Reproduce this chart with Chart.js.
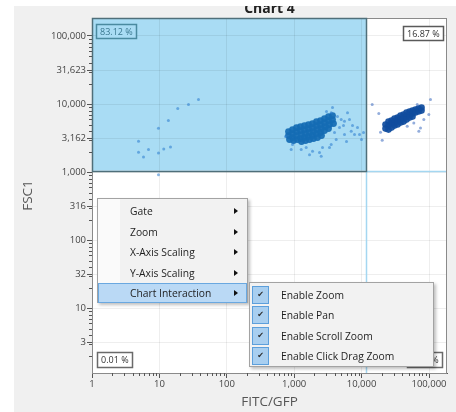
<!DOCTYPE html>
<html>
<head>
<meta charset="utf-8">
<script src="https://cdn.jsdelivr.net/npm/chart.js@4"></script>
<style>
  html, body { margin: 0; padding: 0; width: 456px; height: 412px; overflow: hidden; background: #ffffff; }
  #frame { position: absolute; left: 14px; top: 6px; width: 442px; height: 406px; background: #f0f0f0; overflow: hidden; }
  #frame canvas { position: absolute; left: -14px; top: -6px; }
  .menu { position: absolute; box-sizing: border-box; background: #f2f2f2; border: 1px solid #a3a3a3;
          box-shadow: 2px 2px 3px rgba(0,0,0,0.25); font-family: "Open Sans", sans-serif; font-size: 10.3px; color: #1e1e1e; }
  .strip { position: absolute; left: 0; top: 0; bottom: 0; width: 22px; background: #fafafa; }
  .item { position: absolute; left: 0; right: 0; height: 20px; line-height: 20px; }
  .item .txt { position: absolute; left: 32px; top: 0; white-space: nowrap; }
  .item .arrow { position: absolute; left: 136px; top: 7px; width: 0; height: 0;
                 border-top: 3px solid transparent; border-bottom: 3px solid transparent; border-left: 4px solid #111; }
  .item.hot { left: 0; width: 149px; box-sizing: border-box; background: #bad9f5; border: 1px solid #6aa8e0; }
  .item.hot .txt { left: 31px; top: -1px; }
  .item.hot .arrow { left: 135px; top: 6px; }
  .check { position: absolute; left: 2px; top: 1px; width: 17px; height: 18px; box-sizing: border-box;
           background: #a9cff0; border: 1px solid #5c9fdb; text-align: center; line-height: 16px;
           font-family: "DejaVu Sans", sans-serif; font-size: 8px; color: #2a2a2a; }
  .sub .item .txt { left: 31px; }
</style>
</head>
<body>
<div id="frame"><canvas id="plot" width="456" height="412"></canvas></div>

<div class="menu" style="left:97px; top:198px; width:151px; height:105px;">
  <div class="strip"></div>
  <div class="item" style="top:2px;"><span class="txt">Gate</span><span class="arrow"></span></div>
  <div class="item" style="top:22.5px;"><span class="txt">Zoom</span><span class="arrow"></span></div>
  <div class="item" style="top:43px;"><span class="txt">X-Axis Scaling</span><span class="arrow"></span></div>
  <div class="item" style="top:63.5px;"><span class="txt">Y-Axis Scaling</span><span class="arrow"></span></div>
  <div class="item hot" style="top:84px;"><span class="txt">Chart Interaction</span><span class="arrow"></span></div>
</div>

<div class="menu sub" style="left:249px; top:282px; width:185px; height:85px;">
  <div class="item" style="top:2px;"><span class="check">✔</span><span class="txt">Enable Zoom</span></div>
  <div class="item" style="top:22.3px;"><span class="check">✔</span><span class="txt">Enable Pan</span></div>
  <div class="item" style="top:42.6px;"><span class="check">✔</span><span class="txt">Enable Scroll Zoom</span></div>
  <div class="item" style="top:62.9px;"><span class="check">✔</span><span class="txt">Enable Click Drag Zoom</span></div>
</div>

<script>
// Events as [FITC/GFP, FSC1] pairs.
const mainCore = [
  [823,3941],[823,3441],[852,3005],
  [944,4217],[944,3683],[944,3216],[977,2905],
  [1082,4512],[1082,3941],[1082,3441],[1120,3005],
  [1240,4669],[1240,4076],[1283,3560],[1240,3109],[1283,2809],
  [1422,4829],[1422,4217],[1471,3683],[1422,3216],[1471,2905],
  [1630,4997],[1630,4362],[1687,3810],[1630,3327],[1687,3005],
  [1870,5167],[1870,4512],[1933,3941],[1870,3441],[1933,3109],
  [2143,5530],[2143,4829],[2217,4217],[2143,3683],[2217,3216],
  [2455,5718],[2455,4997],[2541,4362],[2455,3810],[2541,3441],
  [2816,6120],[2816,5346],[2913,4669],[2816,4076],
  [3228,6549],[3228,5718],[3339,4997],[3228,4362],
  [3700,6776],[3700,5916],[3828,5167]
];
const mainSparse = [
  [38.0,11650],[27.0,9840],[18.7,8590],[13.6,5718],[9.69,4406],
  [4.90,2838],[4.90,1955],[5.81,1673],[6.89,2142],[9.69,1916],
  [11.6,2194],[14.6,2348],[9.69,919],
  [3538,7424],[3700,8890],[4387,6549],[4982,5916],[5574,5585],
  [6180,7424],[6612,5916],[4699,4512],[7013,3981],[8690,4512],
  [9310,3560],[7850,3560],[5574,3560],[3963,3810],[4199,3005],
  [2373,1935],[1870,2023],[2630,2292],[3538,2537],[1506,2292],
  [944,2537],[1687,1808],[2516,1708],[1270,2142],[10670,3810],
  [3339,2292],[902,2142],[743,3327],[3013,7762],[5386,4829],
  [7330,4829],[5970,2809],[9960,3005]
];
const brightCore = [
  [22630,4997],[22630,4362],
  [25060,5530],[25060,4829],[25060,4217],
  [27780,5718],[27780,5167],[27780,4512],
  [30780,6120],[30780,5346],[30780,4829],
  [34110,6327],[34110,5718],[34110,4997],
  [37780,6776],[37780,5916],[37780,5346],
  [41860,7013],[41860,6327],[41860,5530],
  [46370,7499],[46370,6549],[46370,5916],
  [51380,7762],[51380,7013],[51380,6327],
  [56920,8020],[56920,7248],[56920,6549],
  [63070,8300],[63070,7499],
  [69870,8590],[69870,7762],
  [77410,8890],[77410,8020]
];
const brightSparse = [
  [14360,9840],[17990,7248],[19070,3849],[20220,2935],[105200,11650],
  [66860,9840],[99310,7013],[83730,5916],[74770,4467],[70590,3981],
  [47520,4716],[59470,5291]
];

// Quadrant gate and its statistics (UL, UR, LL, LR).
const gateFitc = 11600;
const gateFsc = 1050;
const quadrantLabels = ['83.12 %', '16.87 %', '0.01 %', '0.00 %'];

// Axis ranges and labelled ticks.
const fitcRange = [1, 184900];
const fscRange = [1.12, 183800];
const fitcTickValues = [1, 10, 100, 1000, 10000, 100000];
const fitcTickLabels = ['1', '10', '100', '1,000', '10,000', '100,000'];
const fscTickValues = [3.1623, 10, 31.623, 100, 316.23, 1000, 3162.3, 10000, 31623, 100000];
const fscTickLabels = ['3', '10', '32', '100', '316', '1,000', '3,162', '10,000', '31,623', '100,000'];

const toPoints = arr => arr.map(([x, y]) => ({ x, y }));

const UI_FONT = '"Open Sans", sans-serif';

function minorValues(min, max) {
  const out = [];
  for (let e = -1; e <= 6; e++) {
    for (let m = 2; m <= 9; m++) {
      const v = m * Math.pow(10, e);
      if (v > min && v < max) out.push(v);
    }
  }
  return out;
}

const gatePlugin = {
  id: 'quadGate',
  beforeDraw(chart) {
    const { ctx, chartArea: a, scales: { x, y } } = chart;
    const gx = x.getPixelForValue(gateFitc);
    const gy = y.getPixelForValue(gateFsc);
    ctx.save();
    ctx.fillStyle = '#ffffff';
    ctx.fillRect(a.left, a.top, a.right - a.left, a.bottom - a.top);
    ctx.fillStyle = '#a9dcf4';
    ctx.fillRect(a.left, a.top, gx - a.left, gy - a.top);
    ctx.restore();
  },
  afterDatasetsDraw(chart) {
    const { ctx, chartArea: a, scales: { x, y } } = chart;
    const gx = Math.round(x.getPixelForValue(gateFitc)) + 0.5;
    const gy = Math.round(y.getPixelForValue(gateFsc)) + 0.5;
    ctx.save();
    // quadrant continuation lines
    ctx.strokeStyle = '#a4d7f1';
    ctx.lineWidth = 1.5;
    ctx.beginPath();
    ctx.moveTo(gx, gy); ctx.lineTo(a.right, gy);
    ctx.moveTo(gx, gy); ctx.lineTo(gx, a.bottom);
    ctx.stroke();
    // plot frame
    ctx.strokeStyle = '#8a8a8a';
    ctx.lineWidth = 1;
    ctx.strokeRect(a.left + 0.5, a.top + 0.5, a.right - a.left - 1, a.bottom - a.top);
    // selected gate outline
    ctx.strokeStyle = '#4f6f7a';
    ctx.lineWidth = 1.5;
    ctx.strokeRect(a.left + 0.5, a.top + 0.5, gx - a.left - 0.5, gy - a.top - 0.5);
    ctx.restore();
  },
  afterDraw(chart) {
    const { ctx, chartArea: a, scales: { x, y } } = chart;
    ctx.save();
    // minor ticks
    ctx.strokeStyle = '#555';
    ctx.lineWidth = 1;
    ctx.beginPath();
    minorValues(fitcRange[0], fitcRange[1]).forEach(v => {
      const px = Math.round(x.getPixelForValue(v)) + 0.5;
      ctx.moveTo(px, a.bottom); ctx.lineTo(px, a.bottom + 3);
    });
    minorValues(fscRange[0], fscRange[1]).forEach(v => {
      const py = Math.round(y.getPixelForValue(v)) + 0.5;
      ctx.moveTo(a.left, py); ctx.lineTo(a.left - 3, py);
    });
    ctx.stroke();

    // quadrant statistics boxes
    ctx.font = '9px ' + UI_FONT;
    ctx.textBaseline = 'middle';
    const box = (text, left, top, h, stroke, fill, color) => {
      const w = Math.round(ctx.measureText(text).width) + 7;
      ctx.fillStyle = fill;
      ctx.fillRect(left, top, w, h);
      ctx.strokeStyle = stroke;
      ctx.lineWidth = 1.5;
      ctx.strokeRect(left + 0.5, top + 0.5, w, h);
      ctx.fillStyle = color;
      ctx.textAlign = 'left';
      ctx.fillText(text, left + 4, top + h / 2 + 1);
      return w;
    };
    box(quadrantLabels[0], a.left + 4, a.top + 6, 14, '#4a8aa0', '#a9dcf4', '#3b7890');
    const w1 = Math.round(ctx.measureText(quadrantLabels[1]).width) + 7;
    box(quadrantLabels[1], a.right - 4 - w1, a.top + 8, 14, '#5a5a5a', '#ffffff', '#333');
    box(quadrantLabels[2], a.left + 5, a.bottom - 21, 15, '#6a6a6a', '#ffffff', '#333');
    const w3 = Math.round(ctx.measureText(quadrantLabels[3]).width) + 7;
    box(quadrantLabels[3], a.right - 5 - w3, a.bottom - 21, 15, '#6a6a6a', '#ffffff', '#333');
    ctx.restore();
  }
};

new Chart(document.getElementById('plot'), {
  type: 'scatter',
  data: {
    datasets: [
      { data: toPoints(mainSparse), pointRadius: 1.5, backgroundColor: 'rgba(40,122,205,0.55)', borderWidth: 0 },
      { data: toPoints(mainCore), pointRadius: 3.4, backgroundColor: 'rgba(20,108,180,0.93)', borderWidth: 0 },
      { data: toPoints(brightSparse), pointRadius: 1.5, backgroundColor: 'rgba(40,92,186,0.5)', borderWidth: 0 },
      { data: toPoints(brightCore), pointRadius: 3.3, backgroundColor: 'rgba(16,76,158,0.93)', borderWidth: 0 }
    ]
  },
  options: {
    responsive: false,
    animation: false,
    events: [],
    layout: { padding: { left: 0, right: 9, top: 0, bottom: 0 } },
    elements: { point: { borderWidth: 0, hoverRadius: 0 } },
    plugins: {
      legend: { display: false },
      tooltip: { enabled: false },
      title: {
        display: true,
        text: 'Chart 4',
        fullSize: false,
        color: '#222',
        font: { family: UI_FONT, size: 14, weight: 'bold', lineHeight: 1.2 },
        padding: { top: 0.5, bottom: 0.7 }
      }
    },
    scales: {
      x: {
        type: 'logarithmic',
        min: fitcRange[0],
        max: fitcRange[1],
        afterBuildTicks: s => { s.ticks = fitcTickValues.map(v => ({ value: v })); },
        afterFit: s => { s.height = 39; },
        ticks: {
          autoSkip: false, maxRotation: 0, padding: 1,
          color: '#444', font: { family: UI_FONT, size: 9.5 },
          callback: (v, i) => fitcTickLabels[i]
        },
        grid: { color: 'rgba(0,0,0,0.065)', tickColor: '#555', tickLength: 5 },
        border: { color: '#555', width: 1 },
        title: {
          display: true, text: 'FITC/GFP', color: '#555',
          font: { family: UI_FONT, size: 13.5, lineHeight: 1.2 },
          padding: { top: 0, bottom: 2 }
        }
      },
      y: {
        type: 'logarithmic',
        min: fscRange[0],
        max: fscRange[1],
        afterBuildTicks: s => { s.ticks = fscTickValues.map(v => ({ value: v })); },
        afterFit: s => { s.width = 92; },
        ticks: {
          autoSkip: false, padding: 1,
          color: '#444', font: { family: UI_FONT, size: 9.5 },
          callback: (v, i) => fscTickLabels[i]
        },
        grid: { color: 'rgba(0,0,0,0.065)', tickColor: '#555', tickLength: 5 },
        border: { color: '#555', width: 1 },
        title: {
          display: true, text: 'FSC1', color: '#555',
          font: { family: UI_FONT, size: 13.5, lineHeight: 1.2 },
          padding: { top: 20, bottom: 0 }
        }
      }
    }
  },
  plugins: [gatePlugin]
});
</script>
</body>
</html>
